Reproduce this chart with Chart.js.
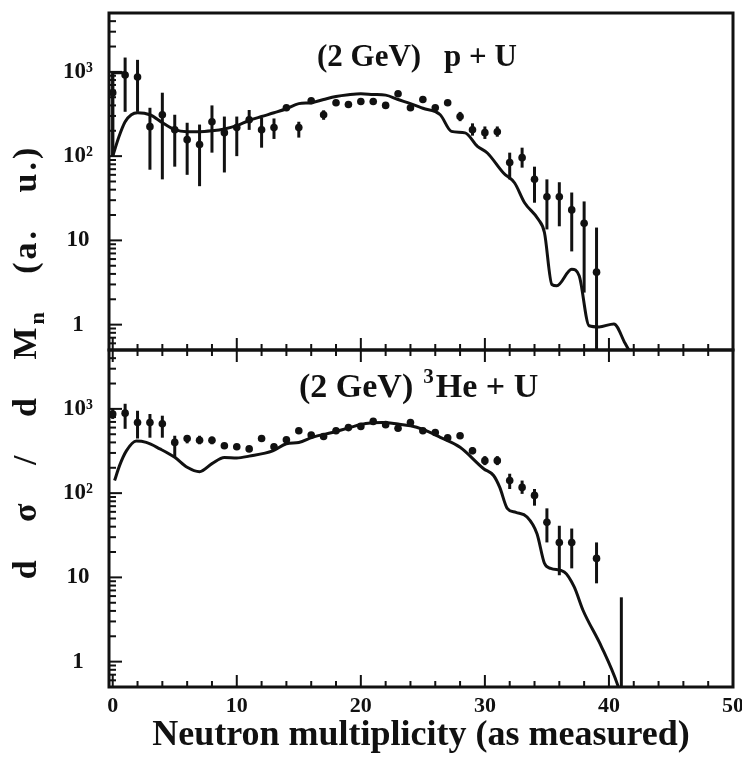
<!DOCTYPE html>
<html><head><meta charset="utf-8">
<script src="https://cdn.jsdelivr.net/npm/chart.js@4.4.1/dist/chart.umd.min.js"></script>
<style>html,body{margin:0;padding:0;background:#fff}canvas{display:block}</style>
</head><body>
<canvas id="c" width="742" height="757"></canvas>
<script>
// ---------------- data ----------------
const xTickValues = [0, 10, 20, 30, 40, 50];
const yTickValues = [1, 10, 100, 1000];
const yTickLabels = ['1', '10', '10\u00B2', '10\u00B3'];

// (2 GeV) p + U : measured points
const puX  = [0,1,2,3,4,5,6,7,8,9,10,11,12,13,14,15,16,17,18,19,20,21,22,23,24,25,26,27,28,29,30,31,32,33,34,35,36,37,38,39];
const puY  = [565,920,870,224,310,206,157,137,256,190,218,270,206,218,375,218,455,310,430,410,445,445,400,550,375,470,375,430,295,206,190,195,84,96,53,33,33,23,16,4.2];
const puLo = [100,336,336,69,53,75,60,44,110,64,100,205,126,160,null,166,null,270,null,null,null,null,null,null,null,null,null,null,260,175,160,170,53,73,28,13.5,14.7,7.4,2.4,0.4];
const puHi = [1000,1480,1390,375,566,310,249,237,400,295,295,353,286,280,null,256,null,350,null,null,null,null,null,null,null,null,null,null,335,245,225,225,110,126,75,53,49,37,29,14.2];
// first-bin outline
const puEdgeX = [0, 0, 1];
const puEdgeY = [100, 980, 980];
// (2 GeV) p + U : calculation
const puCurveX = [0,0.5,1,1.5,2,3,4,5,6,7,8,9,10,11,12,13,14,15,16,17,18,19,20,21,22,23,24,25,26.4,27.3,28.4,29.4,30.2,31.5,32.4,33.2,34.3,34.8,35.4,35.8,37,37.6,38.4,39.2,40.4,41.3,41.6];
const puCurveY = [100,170,256,310,327,310,250,206,195,195,200,210,230,265,295,327,365,420,430,470,510,535,550,540,530,470,420,370,310,197,189,131,109,63,48,28,17.8,12.4,3.0,2.9,4.55,3.8,0.97,0.94,1.02,0.6,0.5];

// (2 GeV) 3He + U : measured points
const heX  = [0,1,2,3,4,5,6,7,8,9,10,11,12,13,14,15,16,17,18,19,20,21,22,23,24,25,26,27,28,29,30,31,32,33,34,35,36,37,39];
const heY  = [870,890,690,690,665,400,445,425,425,365,355,335,445,355,430,550,490,470,550,600,620,710,650,590,690,550,525,455,480,318,243,243,141,117,94,45,26,26,16.8];
const heLo = [760,580,445,455,455,265,390,380,380,null,null,null,null,null,null,null,null,null,null,null,null,null,null,null,null,null,null,null,null,290,215,215,112,98,71,26,10.6,12.8,8.5];
const heHi = [1000,1150,950,870,830,480,480,480,470,null,null,null,null,null,null,null,null,null,null,null,null,null,null,null,null,null,null,null,null,350,275,275,170,141,112,66,41,38,26];
// upper-limit bar without a point
const heBarX  = [41];
const heBarLo = [0.4];
const heBarHi = [5.8];
// (2 GeV) 3He + U : calculation
const heCurveX = [0.15,0.55,1.1,1.9,2.7,3.8,5,6,7,8,9,10,11,12.9,14,15,16.1,17.7,19.1,20.4,21.7,23,24,25,26.4,28,29.9,30.7,31.2,31.8,32.5,33.4,34.2,34.8,35.3,36.4,37.2,37.9,39.4,40.7,40.75];
const heCurveY = [141,212,317,415,400,335,266,203,180,224,265,262,275,317,385,400,460,525,600,670,690,660,630,570,460,350,195,162,117,66,59,52,33,14.7,12.8,11.6,7.7,4.1,1.5,0.53,0.5];

// ---------------- helpers ----------------
const ink = '#111111';
const FONT = '"Liberation Serif", "Times New Roman", serif';
const pts = (xs, ys) => xs.map((x, i) => ({x, y: ys[i]}));

const errorSets = [
  {axis: 'yPU', x: puX, lo: puLo, hi: puHi},
  {axis: 'yHe', x: heX, lo: heLo, hi: heHi},
  {axis: 'yHe', x: heBarX, lo: heBarLo, hi: heBarHi}
];

const decorPlugin = {
  id: 'decor',
  beforeDatasetsDraw(chart) {
    const ctx = chart.ctx, xs = chart.scales.x;
    ctx.save();
    ctx.strokeStyle = ink;
    ctx.lineWidth = 3;
    ctx.lineCap = 'butt';
    for (const set of errorSets) {
      const ys = chart.scales[set.axis];
      for (let i = 0; i < set.x.length; i++) {
        if (set.lo[i] == null) continue;
        const lo = Math.max(set.lo[i], ys.min), hi = Math.min(set.hi[i], ys.max);
        const px = xs.getPixelForValue(set.x[i]);
        ctx.beginPath();
        ctx.moveTo(px, ys.getPixelForValue(lo));
        ctx.lineTo(px, ys.getPixelForValue(hi));
        ctx.stroke();
      }
    }
    ctx.restore();
  },
  afterDraw(chart) {
    const ctx = chart.ctx, xs = chart.scales.x;
    const L = chart.chartArea.left, R = chart.chartArea.right;
    ctx.save();
    ctx.strokeStyle = ink;
    ctx.fillStyle = ink;
    const panels = [chart.scales.yPU, chart.scales.yHe];
    panels.forEach((ys, k) => {
      // frame
      ctx.lineWidth = 3;
      ctx.strokeRect(L, ys.top, R - L, ys.bottom - ys.top);
      // y ticks (inward)
      ctx.lineWidth = 2;
      for (let e = -1; e <= 4; e++) {
        for (let m = 1; m < 10; m++) {
          const v = m * Math.pow(10, e);
          if (v <= ys.min * 1.001 || v >= ys.max * 0.999) continue;
          const py = ys.getPixelForValue(v);
          const len = m === 1 ? 13 : 7;
          ctx.beginPath(); ctx.moveTo(L, py); ctx.lineTo(L + len, py); ctx.stroke();
        }
      }
      // x ticks
      for (let v = 0; v < 50; v += 2) {
        const px = xs.getPixelForValue(v);
        const len = v % 10 === 0 ? 12 : 6;
        ctx.beginPath(); ctx.moveTo(px, ys.bottom); ctx.lineTo(px, ys.bottom - len); ctx.stroke();
        if (k === 1) {
          ctx.beginPath(); ctx.moveTo(px, ys.top); ctx.lineTo(px, ys.top + len); ctx.stroke();
        }
      }
    });
    // panel labels
    const yPU = chart.scales.yPU, yHe = chart.scales.yHe;
    ctx.textBaseline = 'alphabetic';
    ctx.textAlign = 'left';
    ctx.font = 'bold 31px ' + FONT;
    ctx.fillText('(2 GeV)', 317, yPU.top + 53);
    ctx.fillText('p + U', 444, yPU.top + 53);
    ctx.font = 'bold 34px ' + FONT;
    let bx = 299, by = yHe.top + 47;
    ctx.fillText('(2 GeV)', bx, by);
    bx += ctx.measureText('(2 GeV)').width + 10;
    ctx.font = 'bold 21px ' + FONT;
    ctx.fillText('3', bx, by - 14);
    bx += ctx.measureText('3').width + 2;
    ctx.font = 'bold 34px ' + FONT;
    ctx.fillText('He + U', bx, by);
    // y title with subscript
    ctx.save();
    ctx.translate(36, (yPU.top + yHe.bottom) / 2 + 12);
    ctx.rotate(-Math.PI / 2);
    const big = 'bold 34px ' + FONT, small = 'bold 22px ' + FONT;
    const t1 = 'd \u03C3 / d M', t2 = 'n', t3 = ' (a. u.)';
    ctx.letterSpacing = '3px';
    ctx.wordSpacing = '24px';
    ctx.font = big; const w1 = ctx.measureText(t1).width, w3 = ctx.measureText(t3).width;
    ctx.font = small; const w2 = ctx.measureText(t2).width;
    let tx = -(w1 + w2 + w3) / 2;
    ctx.font = big; ctx.fillText(t1, tx, 0); tx += w1;
    ctx.font = small; ctx.fillText(t2, tx, 8); tx += w2;
    ctx.font = big; ctx.fillText(t3, tx, 0);
    ctx.restore();
    ctx.restore();
  }
};

const yAxisCommon = {
  type: 'logarithmic',
  position: 'left',
  min: 0.5,
  max: 5000,
  stack: 'panels',
  stackWeight: 1,
  grid: {display: false, drawTicks: false},
  border: {display: false},
  ticks: {
    autoSkip: false,
    crossAlign: 'center',
    padding: 16,
    color: ink,
    font: {family: FONT, weight: 'bold', size: 23},
    callback: (v, i) => yTickLabels[i]
  },
  afterBuildTicks: (s) => { s.ticks = yTickValues.map(v => ({value: v})); },
  afterFit: (s) => { s.width = 60; s.paddingTop = 0; s.paddingBottom = 0; }
};

new Chart(document.getElementById('c'), {
  type: 'scatter',
  data: {
    datasets: [
      {label: 'p+U data', yAxisID: 'yPU', data: pts(puX, puY), pointRadius: 3.8, pointBackgroundColor: ink, pointBorderWidth: 0},
      {label: 'p+U first bin', yAxisID: 'yPU', data: pts(puEdgeX, puEdgeY), showLine: true, borderColor: ink, borderWidth: 3, pointRadius: 0, tension: 0},
      {label: 'p+U calc', yAxisID: 'yPU', data: pts(puCurveX, puCurveY), showLine: true, borderColor: ink, borderWidth: 3, pointRadius: 0, cubicInterpolationMode: 'monotone'},
      {label: '3He+U data', yAxisID: 'yHe', data: pts(heX, heY), pointRadius: 3.8, pointBackgroundColor: ink, pointBorderWidth: 0},
      {label: '3He+U calc', yAxisID: 'yHe', data: pts(heCurveX, heCurveY), showLine: true, borderColor: ink, borderWidth: 3, pointRadius: 0, cubicInterpolationMode: 'monotone'}
    ]
  },
  options: {
    responsive: false,
    animation: false,
    events: [],
    layout: {padding: {left: 49, right: 9, top: 13, bottom: 0}},
    plugins: {legend: {display: false}, tooltip: {enabled: false}},
    scales: {
      x: {
        type: 'linear',
        position: 'bottom',
        min: -0.3,
        max: 50,
        grid: {display: false, drawTicks: false},
        border: {display: false},
        ticks: {autoSkip: false, maxRotation: 0, padding: 6, color: ink, font: {family: FONT, weight: 'bold', size: 22}, callback: (v) => String(v)},
        afterBuildTicks: (s) => { s.ticks = xTickValues.map(v => ({value: v})); },
        afterFit: (s) => { s.height = 70; s.paddingLeft = 0; s.paddingRight = 0; },
        title: {display: true, text: 'Neutron multiplicity (as measured)', color: ink, font: {family: FONT, weight: 'bold', size: 36}, padding: {top: 0, bottom: 0}}
      },
      yHe: Object.assign({}, yAxisCommon),
      yPU: Object.assign({}, yAxisCommon)
    }
  },
  plugins: [decorPlugin]
});
</script>
</body></html>
